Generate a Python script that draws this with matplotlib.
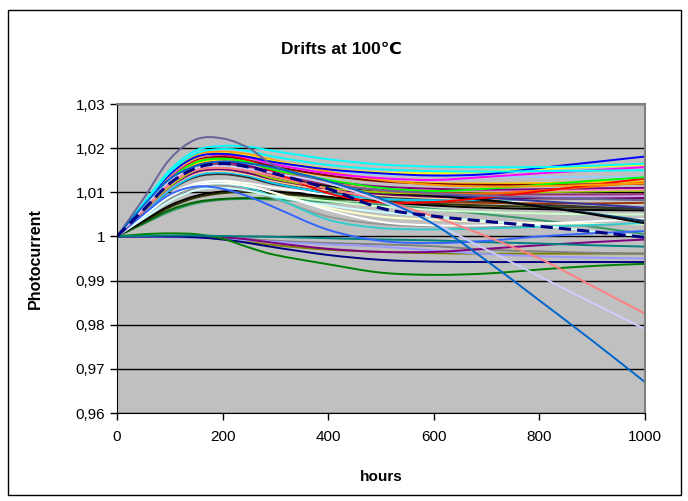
import matplotlib
matplotlib.use("Agg")
import matplotlib.pyplot as plt
from matplotlib.patches import Rectangle, PathPatch
from matplotlib.path import Path

plt.rcParams['font.family'] = ['Liberation Sans', 'DejaVu Sans']

# measurement times (hours)
hours = [0, 50, 100, 150, 200, 250, 300, 400, 500, 600, 700, 800, 900, 1000]

# photocurrent curves (values at each time)
s_bluegray = [1, 1.0085, 1.0175, 1.0220, 1.0222, 1.0200, 1.0160, 1.0120, 1.0105, 1.0098, 1.0092, 1.0088, 1.0085, 1.0082]
s_cyan = [1, 1.0075, 1.0150, 1.0195, 1.0205, 1.0203, 1.0193, 1.0175, 1.0163, 1.0158, 1.0157, 1.0157, 1.0160, 1.0165]
s_cyan2 = [1, 1.0072, 1.0145, 1.0188, 1.0198, 1.0193, 1.0180, 1.0162, 1.0152, 1.0148, 1.0147, 1.0148, 1.0149, 1.0150]
s_blue = [1, 1.0070, 1.0140, 1.0180, 1.0187, 1.0180, 1.0168, 1.0152, 1.0143, 1.0138, 1.0141, 1.0155, 1.0168, 1.0181]
s_yellow = [1, 1.0070, 1.0138, 1.0178, 1.0188, 1.0182, 1.0170, 1.0153, 1.0145, 1.0143, 1.0147, 1.0153, 1.0158, 1.0163]
s_magenta = [1, 1.0068, 1.0135, 1.0177, 1.0186, 1.0178, 1.0163, 1.0143, 1.0132, 1.0128, 1.0135, 1.0143, 1.0150, 1.0157]
s_orange = [1, 1.0070, 1.0140, 1.0185, 1.0192, 1.0186, 1.0172, 1.0147, 1.0128, 1.0117, 1.0113, 1.0114, 1.0117, 1.0120]
s_green = [1, 1.0065, 1.0130, 1.0168, 1.0176, 1.0168, 1.0150, 1.0128, 1.0110, 1.0103, 1.0108, 1.0117, 1.0126, 1.0134]
s_red = [1, 1.0068, 1.0135, 1.0178, 1.0185, 1.0172, 1.0145, 1.0098, 1.0077, 1.0078, 1.0088, 1.0102, 1.0117, 1.0131]
s_orangered = [1, 1.0065, 1.0130, 1.0170, 1.0176, 1.0168, 1.0150, 1.0122, 1.0104, 1.0098, 1.0097, 1.0104, 1.0113, 1.0123]
s_maroon = [1, 1.0066, 1.0132, 1.0172, 1.0180, 1.0172, 1.0158, 1.0138, 1.0125, 1.0119, 1.0117, 1.0117, 1.0118, 1.0119]
s_paleblue = [1, 1.0068, 1.0133, 1.0170, 1.0178, 1.0172, 1.0162, 1.0148, 1.0140, 1.0137, 1.0136, 1.0135, 1.0135, 1.0135]
s_gold = [1, 1.0064, 1.0128, 1.0165, 1.0173, 1.0167, 1.0155, 1.0137, 1.0126, 1.0121, 1.0120, 1.0121, 1.0123, 1.0125]
s_purple = [1, 1.0062, 1.0125, 1.0163, 1.0170, 1.0160, 1.0145, 1.0125, 1.0113, 1.0108, 1.0106, 1.0107, 1.0109, 1.0110]
s_plum = [1, 1.0060, 1.0120, 1.0158, 1.0165, 1.0156, 1.0140, 1.0118, 1.0105, 1.0099, 1.0096, 1.0095, 1.0095, 1.0096]
s_rose = [1, 1.0058, 1.0117, 1.0153, 1.0160, 1.0152, 1.0138, 1.0120, 1.0110, 1.0105, 1.0104, 1.0104, 1.0105, 1.0107]
s_lime = [1, 1.0057, 1.0113, 1.0150, 1.0158, 1.0148, 1.0130, 1.0110, 1.0100, 1.0097, 1.0098, 1.0100, 1.0102, 1.0104]
s_indigo = [1, 1.0062, 1.0125, 1.0160, 1.0167, 1.0158, 1.0143, 1.0120, 1.0105, 1.0095, 1.0088, 1.0080, 1.0073, 1.0065]
s_black = [1, 1.0060, 1.0120, 1.0155, 1.0162, 1.0153, 1.0138, 1.0115, 1.0100, 1.0092, 1.0082, 1.0068, 1.0050, 1.0030]
s_darkteal = [1, 1.0058, 1.0116, 1.0150, 1.0156, 1.0148, 1.0133, 1.0112, 1.0100, 1.0093, 1.0083, 1.0068, 1.0052, 1.0035]
s_lavender = [1, 1.0055, 1.0110, 1.0145, 1.0152, 1.0145, 1.0130, 1.0110, 1.0098, 1.0092, 1.0090, 1.0090, 1.0091, 1.0092]
s_tan = [1, 1.0055, 1.0110, 1.0142, 1.0148, 1.0140, 1.0125, 1.0105, 1.0093, 1.0087, 1.0085, 1.0085, 1.0086, 1.0088]
s_skyblue = [1, 1.0052, 1.0105, 1.0138, 1.0145, 1.0137, 1.0120, 1.0098, 1.0085, 1.0082, 1.0083, 1.0086, 1.0090, 1.0094]
s_brown = [1, 1.0053, 1.0106, 1.0140, 1.0146, 1.0138, 1.0122, 1.0098, 1.0085, 1.0079, 1.0076, 1.0075, 1.0075, 1.0076]
s_darkpurple = [1, 1.0056, 1.0112, 1.0146, 1.0152, 1.0143, 1.0128, 1.0108, 1.0096, 1.0090, 1.0087, 1.0086, 1.0086, 1.0087]
s_gray80 = [1, 1.0052, 1.0104, 1.0135, 1.0141, 1.0133, 1.0118, 1.0100, 1.0090, 1.0084, 1.0078, 1.0072, 1.0067, 1.0062]
s_white = [1, 1.0045, 1.0090, 1.0115, 1.0120, 1.0113, 1.0098, 1.0060, 1.0033, 1.0025, 1.0025, 1.0029, 1.0034, 1.0040]
s_white2 = [1, 1.0048, 1.0095, 1.0120, 1.0126, 1.0120, 1.0110, 1.0095, 1.0085, 1.0080, 1.0078, 1.0077, 1.0076, 1.0075]
s_aqua = [1, 1.0045, 1.0090, 1.0115, 1.0120, 1.0110, 1.0088, 1.0038, 1.0019, 1.0016, 1.0018, 1.0022, 1.0026, 1.0030]
s_ivory = [1, 1.0047, 1.0093, 1.0118, 1.0123, 1.0115, 1.0098, 1.0065, 1.0045, 1.0038, 1.0033, 1.0030, 1.0028, 1.0027]
s_gray40 = [1, 1.0043, 1.0085, 1.0110, 1.0115, 1.0105, 1.0085, 1.0045, 1.0028, 1.0023, 1.0022, 1.0023, 1.0025, 1.0027]
s_lightturq = [1, 1.0040, 1.0080, 1.0105, 1.0110, 1.0103, 1.0090, 1.0070, 1.0055, 1.0045, 1.0035, 1.0025, 1.0012, 1.0000]
s_blue2 = [1, 1.0050, 1.0095, 1.0113, 1.0108, 1.0090, 1.0065, 1.0015, 0.9990, 0.9985, 0.9990, 1.0000, 1.0007, 1.0012]
s_black2 = [1, 1.0035, 1.0070, 1.0092, 1.0102, 1.0105, 1.0102, 1.0090, 1.0078, 1.0070, 1.0065, 1.0062, 1.0060, 1.0059]
s_olivegreen = [1, 1.0033, 1.0066, 1.0088, 1.0098, 1.0100, 1.0097, 1.0088, 1.0080, 1.0074, 1.0070, 1.0067, 1.0065, 1.0064]
s_lightgreen = [1, 1.0035, 1.0070, 1.0090, 1.0098, 1.0098, 1.0093, 1.0080, 1.0068, 1.0060, 1.0055, 1.0052, 1.0050, 1.0050]
s_darkgreen = [1, 1.0030, 1.0060, 1.0078, 1.0085, 1.0087, 1.0086, 1.0084, 1.0083, 1.0083, 1.0084, 1.0085, 1.0086, 1.0087]
s_seagreen = [1, 1.0028, 1.0056, 1.0075, 1.0083, 1.0085, 1.0083, 1.0078, 1.0072, 1.0062, 1.0050, 1.0037, 1.0022, 1.0005]
s_teal = [1, 1.0001, 1.0002, 1.0002, 1.0001, 1.0000, 0.9999, 0.9996, 0.9993, 0.9991, 0.9987, 0.9984, 0.9980, 0.9977]
s_green2 = [1, 1.0005, 1.0007, 1.0005, 0.9995, 0.9975, 0.9958, 0.9937, 0.9918, 0.9913, 0.9916, 0.9925, 0.9933, 0.9938]
s_navy = [1, 1.0000, 1.0000, 0.9998, 0.9993, 0.9985, 0.9975, 0.9958, 0.9947, 0.9943, 0.9942, 0.9942, 0.9942, 0.9942]
s_purple2 = [1, 1.0000, 1.0000, 1.0000, 0.9998, 0.9993, 0.9985, 0.9972, 0.9965, 0.9965, 0.9972, 0.9980, 0.9987, 0.9993]
s_periwinkle = [1, 0.9999, 0.9998, 0.9997, 0.9995, 0.9991, 0.9988, 0.9982, 0.9977, 0.9968, 0.9960, 0.9955, 0.9952, 0.9950]
s_gray50 = [1, 1.0000, 1.0000, 0.9999, 0.9998, 0.9994, 0.9990, 0.9985, 0.9982, 0.9978, 0.9970, 0.9966, 0.9963, 0.9961]
s_olive = [1, 1.0000, 1.0000, 0.9998, 0.9995, 0.9988, 0.9980, 0.9970, 0.9965, 0.9962, 0.9961, 0.9961, 0.9961, 0.9961]
s_coral = [1, 1.0060, 1.0120, 1.0150, 1.0155, 1.0148, 1.0135, 1.0108, 1.0082, 1.0045, 1.0000, 0.9950, 0.9888, 0.9825]
s_iceblue = [1, 1.0065, 1.0125, 1.0155, 1.0160, 1.0153, 1.0143, 1.0120, 1.0080, 1.0030, 0.9970, 0.9910, 0.9850, 0.9790]
s_dashed = [1, 1.0060, 1.0120, 1.0155, 1.0165, 1.0157, 1.0142, 1.0108, 1.0064, 1.0046, 1.0034, 1.0023, 1.0011, 0.9998]
s_ocean = [1, 1.0070, 1.0130, 1.0160, 1.0170, 1.0165, 1.0155, 1.0125, 1.0085, 1.0028, 0.9945, 0.9855, 0.9764, 0.9670]

series = [
    (s_seagreen, '#339966'), (s_darkgreen, '#006600'), (s_lightgreen, '#CCFFCC'),
    (s_olivegreen, '#333300'), (s_black2, '#000000'), (s_gray40, '#969696'),
    (s_ivory, '#FFFFCC'), (s_aqua, '#33CCCC'), (s_lightturq, '#CCFFFF'),
    (s_white, '#FFFFFF'), (s_white2, '#FFFFFF'), (s_gray80, '#333333'),
    (s_brown, '#993300'), (s_skyblue, '#00CCFF'), (s_tan, '#FFCC99'),
    (s_lavender, '#CC99FF'), (s_darkpurple, '#660066'), (s_darkteal, '#003366'),
    (s_black, '#000000'), (s_indigo, '#333399'), (s_lime, '#99CC00'),
    (s_rose, '#FF99CC'), (s_plum, '#993366'), (s_purple, '#800080'),
    (s_gold, '#FFCC00'), (s_paleblue, '#99CCFF'), (s_maroon, '#800000'),
    (s_orangered, '#FF6600'), (s_red, '#FF0000'), (s_green, '#00FF00'),
    (s_orange, '#FF9900'), (s_magenta, '#FF00FF'), (s_yellow, '#FFFF00'),
    (s_blue, '#0000FF'), (s_cyan2, '#00FFFF'), (s_cyan, '#00FFFF'),
    (s_bluegray, '#666699'), (s_olive, '#808000'), (s_gray50, '#808080'),
    (s_periwinkle, '#9999FF'), (s_purple2, '#800080'), (s_navy, '#000080'),
    (s_green2, '#008000'), (s_teal, '#008080'), (s_blue2, '#3366FF'),
    (s_coral, '#FF8080'), (s_iceblue, '#CCCCFF'), (s_ocean, '#0066CC'),
]

yticks = [0.96, 0.97, 0.98, 0.99, 1.00, 1.01, 1.02, 1.03]
ytick_labels = ['0,96', '0,97', '0,98', '0,99', '1', '1,01', '1,02', '1,03']
xticks = [0, 200, 400, 600, 800, 1000]


def smooth_path(xs, ys):
    # Excel-style smoothed line: cubic Bezier segments through the data points
    pts = list(zip(xs, ys))
    verts = [pts[0]]
    codes = [Path.MOVETO]
    n = len(pts)
    for i in range(n - 1):
        p0 = pts[max(i - 1, 0)]
        p1 = pts[i]
        p2 = pts[i + 1]
        p3 = pts[min(i + 2, n - 1)]
        c1 = (p1[0] + (p2[0] - p0[0]) / 6, p1[1] + (p2[1] - p0[1]) / 6)
        c2 = (p2[0] - (p3[0] - p1[0]) / 6, p2[1] - (p3[1] - p1[1]) / 6)
        verts += [c1, c2, p2]
        codes += [Path.CURVE4] * 3
    return Path(verts, codes)


fig = plt.figure(figsize=(6.88, 5.01), dpi=100)
fig.patches.append(Rectangle((0.0116, 0.012), 0.978, 0.968, transform=fig.transFigure,
                             fill=False, edgecolor='black', linewidth=1))

ax = fig.add_axes([0.170, 0.1756, 0.7675, 0.6168])
ax.set_facecolor('#C0C0C0')

for vals, col in series:
    ax.add_patch(PathPatch(smooth_path(hours, vals), facecolor='none',
                           edgecolor=col, linewidth=1.4, joinstyle='round'))
ax.add_patch(PathPatch(smooth_path(hours, s_dashed), facecolor='none',
                       edgecolor='#000080', linewidth=2.2, linestyle=(0, (4, 2))))

ax.set_xlim(0, 1000)
ax.set_ylim(0.96, 1.03)
ax.set_xticks(xticks)
ax.set_yticks(yticks)
ax.set_yticklabels(ytick_labels)
ax.tick_params(direction='out', length=5, width=1, labelsize=11, colors='black')
ax.tick_params(axis='x', pad=7)
ax.grid(axis='y', color='black', linewidth=1)
ax.set_axisbelow(True)

for side in ['top', 'right']:
    ax.spines[side].set_color('#808080')
    ax.spines[side].set_linewidth(1.5)
for side in ['left', 'bottom']:
    ax.spines[side].set_color('black')

fig.text(0.496, 0.902, 'Drifts at 100℃', fontsize=12.5, fontweight='bold',
         ha='center', va='center')
ax.set_xlabel('hours', fontsize=11, fontweight='bold')
ax.set_ylabel('Photocurrent', fontsize=11.5, fontweight='bold')
ax.xaxis.set_label_coords(0.5, -0.184)
ax.yaxis.set_label_coords(-0.140, 0.5)

fig.savefig('out.png', dpi=100)
